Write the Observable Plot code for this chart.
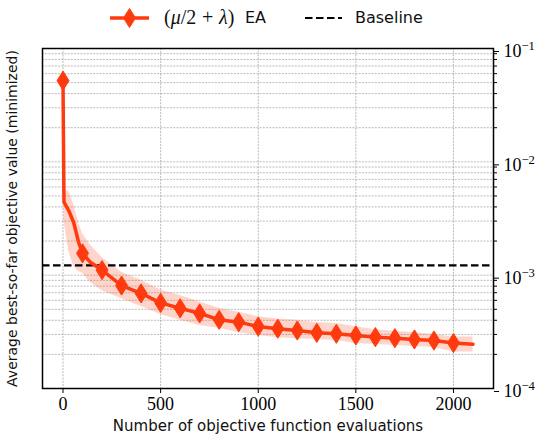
<!DOCTYPE html>
<html><head><meta charset="utf-8">
<script src="https://cdn.jsdelivr.net/npm/d3@7"></script>
<script src="https://cdn.jsdelivr.net/npm/@observablehq/plot@0.6"></script>
<style>
body{margin:0;background:#fff;}
#wrap{position:relative;width:539px;height:436px;overflow:hidden;}
#legend{position:relative;height:36px;width:539px;font-family:"DejaVu Sans";font-size:16px;color:#111;}
#legend .item{position:absolute;top:7px;line-height:22px;white-space:nowrap;}
#legend .math{font-family:"Liberation Serif";font-size:20px;top:6px;}
</style></head><body>
<div id="wrap"><div id="legend"></div><div id="chart"></div></div>
<script>
// ---- data ----
const evals = [0, 5, 30, 55, 80, 100, 140, 200, 300, 400, 500, 600, 700, 800, 900, 1000, 1100, 1200, 1300, 1400, 1500, 1600, 1700, 1800, 1900, 2000, 2100];
const meanValue = [0.052, 0.0044, 0.0037, 0.0029, 0.00195, 0.00156, 0.0013, 0.00111, 0.00081, 0.00069, 0.00057, 0.00051, 0.00046, 0.000404, 0.000385, 0.000352, 0.000337, 0.000325, 0.00031, 0.000304, 0.000294, 0.000284, 0.000278, 0.000271, 0.000265, 0.000252, 0.000246];
const upperValue = [0.052, 0.0056, 0.0055, 0.0042, 0.0029, 0.00233, 0.00185, 0.00143, 0.00106, 0.0009, 0.00074, 0.00066, 0.00058, 0.00051, 0.00047, 0.00043, 0.00041, 0.0004, 0.00038, 0.000374, 0.00035, 0.00033, 0.00032, 0.00031, 0.0003, 0.000285, 0.000285];
const lowerValue = [0.052, 0.0030, 0.0016, 0.0012, 0.00108, 0.00104, 0.00086, 0.00073, 0.00062, 0.00053, 0.00045, 0.0004, 0.00036, 0.00034, 0.00031, 0.000294, 0.00028, 0.000275, 0.00027, 0.000265, 0.00025, 0.000245, 0.00024, 0.000235, 0.00023, 0.00021, 0.00021];
const markerEvals = [0, 100, 200, 300, 400, 500, 600, 700, 800, 900, 1000, 1100, 1200, 1300, 1400, 1500, 1600, 1700, 1800, 1900, 2000];
const baselineValue = [0.00122];
const xTicks = [0, 500, 1000, 1500, 2000];
const yTicks = [1e-4, 1e-3, 1e-2, 1e-1];
const seriesNames = ["EA", "Baseline"];
const xLabel = "Number of objective function evaluations";
const yLabel = "Average best-so-far objective value (minimized)";

const RED = "#ff3a0f";
const rows = evals.map((x, i) => ({x, mean: meanValue[i], lo: lowerValue[i], hi: upperValue[i]}));
const markers = rows.filter(r => markerEvals.includes(r.x));
const minorTicks = d3.scaleLog().domain([1e-4, 1e-1]).ticks().filter(v => !yTicks.some(t => Math.abs(t - v) / t < 1e-6));
const allGridY = d3.scaleLog().domain([1e-4, 1e-1]).ticks();

const thinDiamond = {draw(ctx, size) {
  const w = Math.sqrt(size / Math.PI), h = w * 1.6;
  ctx.moveTo(0, -h); ctx.lineTo(w, 0); ctx.lineTo(0, h); ctx.lineTo(-w, 0); ctx.closePath();
}};

// ---- legend ----
const legend = document.getElementById("legend");
legend.innerHTML = `
<svg style="position:absolute;left:0;top:0" width="539" height="36">
  <line x1="110" x2="149" y1="18" y2="18" stroke="${RED}" stroke-width="3.5"/>
  <path d="M129.5,8.5 L135.5,18 L129.5,27.5 L123.5,18 Z" fill="${RED}" stroke="${RED}"/>
  <line x1="305" x2="342" y1="18" y2="18" stroke="#000" stroke-width="2.2" stroke-dasharray="7.5,3.5"/>
</svg>
<span class="item math" style="left:164px">(<i>μ</i>/2</span>
<span class="item math" style="left:202px">+</span>
<span class="item math" style="left:219px"><i>λ</i>)</span>
<span class="item" style="left:245px">${seriesNames[0]}</span>
<span class="item" style="left:355px">${seriesNames[1]}</span>`;

// ---- chart ----
const chart = Plot.plot({
  width: 539, height: 400,
  marginTop: 12, marginBottom: 48, marginLeft: 42, marginRight: 46,
  x: {domain: [-105, 2205]},
  y: {type: "log", domain: [1e-4, 1e-1]},
  style: {background: "#fff", overflow: "visible"},
  marks: [
    Plot.ruleY(allGridY, {stroke: "#a8a8a8", strokeWidth: 0.8, strokeDasharray: "2,1.2"}),
    Plot.ruleX(xTicks, {stroke: "#a8a8a8", strokeWidth: 0.8, strokeDasharray: "2,1.2"}),
    Plot.areaY(rows.slice(1), {x: "x", y1: "lo", y2: "hi", fill: RED, fillOpacity: 0.22}),
    Plot.ruleY(baselineValue, {stroke: "#000", strokeWidth: 2.2, strokeDasharray: "7.5,3.5"}),
    Plot.line(rows, {x: "x", y: "mean", stroke: RED, strokeWidth: 3.5}),
    Plot.dot(markers, {x: "x", y: "mean", symbol: thinDiamond, r: 6, fill: RED, stroke: RED, strokeWidth: 1}),
    Plot.frame({stroke: "#000", strokeWidth: 1.5}),
    Plot.axisX({ticks: xTicks, tickSize: 5, tickPadding: 4, tickFormat: d => String(d), fontSize: 18, fontFamily: "Liberation Serif", label: null, stroke: "#000"}),
    Plot.axisY({anchor: "right", ticks: yTicks, tickSize: 5, tickPadding: 5, dy: 3, tickFormat: d => "10^" + Math.round(Math.log10(d)), fontSize: 18, fontFamily: "Liberation Serif", label: null}),
    Plot.axisY({anchor: "right", ticks: minorTicks, tickSize: 3, tickFormat: () => "", label: null}),
    Plot.text([xLabel], {frameAnchor: "bottom", dy: 42, text: d => d, fontSize: 15, fontFamily: "DejaVu Sans", fill: "#111"}),
    Plot.text([yLabel], {frameAnchor: "left", dx: -30, rotate: -90, textAnchor: "middle", text: d => d, fontSize: 14, fontFamily: "DejaVu Sans", fill: "#111"})
  ]
});
document.getElementById("chart").appendChild(chart);

// superscript exponents on the y tick labels
d3.select(chart).selectAll('g[aria-label="y-axis tick label"] text').each(function() {
  const t = this.textContent;
  if (!t.includes("^")) return;
  const e = +t.split("^")[1];
  const s = d3.select(this);
  s.text(null);
  s.append("tspan").text("10");
  s.append("tspan").attr("dy", "-0.55em").attr("font-size", "0.7em").text((e < 0 ? "−" : "") + Math.abs(e));
});
</script>
</body></html>
